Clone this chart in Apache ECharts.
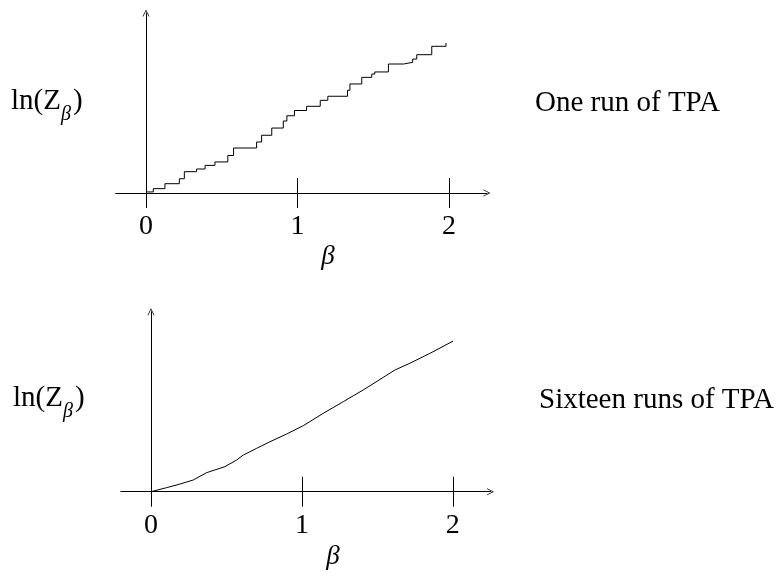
<!DOCTYPE html>
<html>
<head>
<meta charset="utf-8">
<script src="https://cdn.jsdelivr.net/npm/echarts@6/dist/echarts.min.js"></script>
<style>
  html, body { margin: 0; padding: 0; background: #fff; }
  #main { width: 779px; height: 578px; }
</style>
</head>
<body>
<div id="main"></div>
<script>
var chartDom = document.getElementById('main');
var myChart = echarts.init(chartDom);
var option;

// one run of TPA: [beta, ln Z] at the start of each level
var oneRun = [
    [0, 0.07], [0.048, 0.29], [0.125, 0.62], [0.22, 0.95], [0.253, 1.42],
    [0.334, 1.6], [0.39, 1.84], [0.455, 2.07], [0.54, 2.5], [0.578, 3.0],
    [0.73, 3.4], [0.763, 3.85], [0.83, 4.33], [0.906, 4.8], [0.93, 5.15],
    [0.98, 5.5], [1.06, 5.78], [1.15, 6.18], [1.2, 6.45], [1.33, 6.85],
    [1.346, 7.27], [1.424, 7.71], [1.49, 7.93], [1.51, 8.07], [1.6, 8.6],
    [1.7, 8.71], [1.76, 8.93], [1.787, 9.22], [1.886, 9.78], [1.98, 10.0]
];

// sixteen runs of TPA
var sixteenRuns = [
    [0, 0], [0.104, 0.27], [0.192, 0.51], [0.28, 0.78], [0.369, 1.27],
    [0.49, 1.67], [0.567, 2.11], [0.611, 2.44], [0.7, 2.89], [0.788, 3.33],
    [0.898, 3.84], [1.009, 4.4], [1.141, 5.22], [1.274, 6.0], [1.406, 6.78],
    [1.539, 7.62], [1.616, 8.11], [1.715, 8.56], [1.848, 9.22], [2.002, 10.04]
];

var betaTicks = [0, 1, 2];
var panelLabels = ['One run of TPA', 'Sixteen runs of TPA'];

var serif = 'Liberation Serif';
var arrow = 'path://M0,8 L4,0 L8,8 L7.1,8 L4,1.8 L0.9,8 Z';

function xAxisPair(gridIndex) {
    return [{
        type: 'value',
        gridIndex: gridIndex,
        position: 'bottom',
        min: -0.2,
        max: 2.25,
        axisLine: {
            lineStyle: { color: '#000', width: 1 },
            symbol: ['none', arrow],
            symbolSize: [9, 7]
        },
        axisTick: {
            inside: true,
            length: 15,
            customValues: betaTicks,
            lineStyle: { color: '#000', width: 1 }
        },
        axisLabel: {
            customValues: betaTicks,
            margin: 20,
            color: '#000',
            fontFamily: serif,
            fontSize: 28
        },
        splitLine: { show: false }
    }, {
        type: 'value',
        gridIndex: gridIndex,
        position: 'bottom',
        min: -0.2,
        max: 2.25,
        axisLine: { show: false },
        axisTick: {
            inside: false,
            length: 15,
            customValues: betaTicks,
            lineStyle: { color: '#000', width: 1 }
        },
        axisLabel: { show: false },
        splitLine: { show: false }
    }];
}

function yAxis(gridIndex) {
    return {
        type: 'value',
        gridIndex: gridIndex,
        min: 0,
        max: 12,
        axisLine: {
            onZero: true,
            lineStyle: { color: '#000', width: 1 },
            symbol: ['none', arrow],
            symbolSize: [9, 7]
        },
        axisTick: { show: false },
        axisLabel: { show: false },
        splitLine: { show: false }
    };
}

function textEl(text, x, y, size, extra) {
    var style = {
        text: text,
        fill: '#000',
        font: size + 'px "' + serif + '"',
        textAlign: 'left',
        textVerticalAlign: 'middle'
    };
    for (var k in extra) style[k] = extra[k];
    return { type: 'text', x: x, y: y, style: style };
}

function lnZ(x, y) {
    return {
        type: 'text', x: x, y: y,
        style: {
            text: '{a|ln(Z}{s|β}{a|)}',
            fill: '#000',
            textVerticalAlign: 'middle',
            rich: {
                a: { fontFamily: serif, fontSize: 29, color: '#000', verticalAlign: 'bottom', lineHeight: 32 },
                s: { fontFamily: serif, fontSize: 20, fontStyle: 'italic', color: '#000', verticalAlign: 'bottom', lineHeight: 32, padding: [0, 2, -9, 0] }
            }
        }
    };
}

option = {
    animation: false,
    backgroundColor: '#fff',
    grid: [
        { left: 115.7, top: 13, width: 371.2, height: 180 },
        { left: 120.8, top: 311.7, width: 369.7, height: 180 }
    ],
    xAxis: xAxisPair(0).concat(xAxisPair(1)),
    yAxis: [yAxis(0), yAxis(1)],
    graphic: [
        lnZ(11, 100),
        lnZ(13, 397),
        textEl(panelLabels[0], 535, 103, 29, {}),
        textEl(panelLabels[1], 539, 400, 29, {}),
        textEl('β', 328, 257, 27, { textAlign: 'center', font: 'italic 27px "' + serif + '"' }),
        textEl('β', 333, 557, 27, { textAlign: 'center', font: 'italic 27px "' + serif + '"' })
    ],
    series: [{
        name: 'One run of TPA',
        type: 'line',
        xAxisIndex: 0,
        yAxisIndex: 0,
        step: 'end',
        symbol: 'none',
        lineStyle: { color: '#000', width: 1 },
        data: oneRun
    }, {
        name: 'Sixteen runs of TPA',
        type: 'line',
        xAxisIndex: 2,
        yAxisIndex: 1,
        symbol: 'none',
        lineStyle: { color: '#000', width: 1 },
        data: sixteenRuns
    }]
};

option && myChart.setOption(option);
</script>
</body>
</html>
